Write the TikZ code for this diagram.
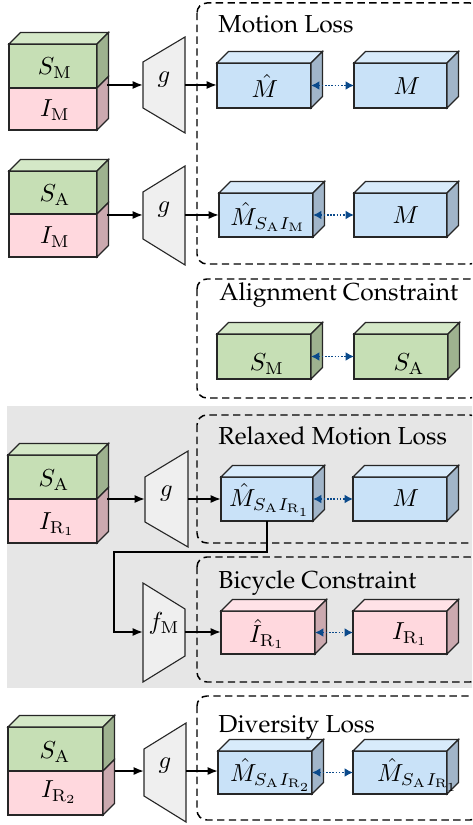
\documentclass[tikz,border=0pt]{standalone}
\usepackage[T1]{fontenc}
\usepackage{palatino}
\usetikzlibrary{calc,fit,arrows.meta}
\definecolor{gfront}{HTML}{C6DFB5}
\definecolor{gtop}{HTML}{D4E8C7}
\definecolor{gside}{HTML}{9EB28F}
\definecolor{pfront}{HTML}{FFD8DE}
\definecolor{ptop}{HTML}{FFE2E7}
\definecolor{pside}{HTML}{CBA9AF}
\definecolor{bfront}{HTML}{C9E2F8}
\definecolor{btop}{HTML}{D8EBFB}
\definecolor{bside}{HTML}{A1B5C9}
\definecolor{trapc}{HTML}{EFEFEF}
\definecolor{bgc}{HTML}{E6E6E6}
\definecolor{darr}{HTML}{0B4A8B}
\tikzset{
 edge/.style={draw=black!85,line width=0.45pt},
 front/.style={edge,fill=#1,inner sep=0pt,outer sep=0pt},
 trapnode/.style={inner sep=0pt,outer sep=0pt},
 flow/.style={line width=0.75pt,-{Latex[length=4.2pt,width=3.3pt]}},
 cmp/.style={darr,line width=0.65pt,dash pattern=on 0.65pt off 0.65pt,{Latex[length=3.4pt,width=3.6pt]}-{Latex[length=3.4pt,width=3.6pt]}},
 group/.style={line width=0.6pt,dash pattern=on 3pt off 1.8pt,rounded corners=4pt},
 title/.style={anchor=base west,inner sep=0pt},
 lbl/.style={inner sep=0pt}
}
\newcommand\topf[2]{\filldraw[edge,fill=#2] (#1.north west) -- ++(11.5,-11.5) -- ($(#1.north east)+(11.5,-11.5)$) -- (#1.north east) -- cycle;}
\newcommand\sidef[2]{\filldraw[edge,fill=#2] (#1.north east) -- ++(11.5,-11.5) -- ($(#1.south east)+(11.5,-11.5)$) -- (#1.south east) -- cycle;}
\begin{document}
\begin{tikzpicture}[x=0.4065pt,y=-0.4065pt,font=\fontsize{10}{12}\selectfont]
\useasboundingbox (0,0) rectangle (472,825);
\clip (0,0) rectangle (472,825);
% background
\fill[bgc] (7,406) rectangle (480,688);
% groups
\draw[group] (197,3) rectangle (480,264);
\draw[group] (197,279) rectangle (480,398);
\draw[group] (197,415) rectangle (480,543);
\draw[group] (197,557) rectangle (480,682);
\draw[group] (197,696) rectangle (480,820);
\node[title] (t1) at (218,33) {Motion Loss};
\node[title] (t2) at (219,301) {Alignment Constraint};
\node[title] (t3) at (218,445) {Relaxed Motion Loss};
\node[title] (t4) at (218,588) {Bicycle Constraint};
\node[title] (t5) at (218,732) {Diversity Loss};
% ---------- row 1
\node[front=gfront,fit={(9,44)(97,88)}] (s1g) {};
\node[front=pfront,fit={(9,88)(97,130)}] (s1p) {};
\topf{s1g}{gtop}\sidef{s1g}{gside}\sidef{s1p}{pside}
\node[lbl] (s1gl) at (55,68) {$S_{\mathrm{M}}$};
\node[lbl] (s1pl) at (55,110) {$I_{\mathrm{M}}$};
\coordinate (s1o) at (107,85);
\filldraw[edge,fill=trapc] (143,62) -- (185,37) -- (185,133) -- (143,108) -- cycle;
\node[trapnode,fit={(143,75)(185,95)}] (g1) {$g$};
\node[front=bfront,fit={(217,63)(311,108)}] (m1) {};
\node[front=bfront,fit={(354,63)(447,108)}] (m2) {};
\topf{m1}{btop}\sidef{m1}{bside}\topf{m2}{btop}\sidef{m2}{bside}
\node[lbl] (m1l) at (265,86) {$\hat{M}$};
\node[lbl] (m2l) at (407,86) {$M$};
\draw[flow] (s1o) -- (g1.west);
\draw[flow] (g1.east) -- (g1.east -| m1.west);
\draw[cmp] (m1.east) -- (m2.west);
% ---------- row 2
\node[front=gfront,fit={(9,171)(97,214)}] (s2g) {};
\node[front=pfront,fit={(9,214)(97,257)}] (s2p) {};
\topf{s2g}{gtop}\sidef{s2g}{gside}\sidef{s2p}{pside}
\node[lbl] (s2gl) at (55,195) {$S_{\mathrm{A}}$};
\node[lbl] (s2pl) at (55,237) {$I_{\mathrm{M}}$};
\coordinate (s2o) at (107,215);
\filldraw[edge,fill=trapc] (143,192) -- (185,166) -- (185,265) -- (143,239) -- cycle;
\node[trapnode,fit={(143,205)(185,225)}] (g2) {$g$};
\node[front=bfront,fit={(219,193)(313,237)}] (m3) {};
\node[front=bfront,fit={(354,193)(447,237)}] (m4) {};
\topf{m3}{btop}\sidef{m3}{bside}\topf{m4}{btop}\sidef{m4}{bside}
\node[lbl] (m3l) at (268,217) {$\hat{M}_{S_{\mathrm{A}}I_{\mathrm{M}}}$};
\node[lbl] (m4l) at (406,215) {$M$};
\draw[flow] (s2o) -- (g2.west);
\draw[flow] (g2.east) -- (g2.east -| m3.west);
\draw[cmp] (m3.east) -- (m4.west);
% ---------- alignment
\node[front=gfront,fit={(217,334)(311,379)}] (a1) {};
\node[front=gfront,fit={(354,334)(448,379)}] (a2) {};
\topf{a1}{gtop}\sidef{a1}{gside}\topf{a2}{gtop}\sidef{a2}{gside}
\node[lbl] (a1l) at (267,364) {$S_{\mathrm{M}}$};
\node[lbl] (a2l) at (409,364) {$S_{\mathrm{A}}$};
\draw[cmp] (a1.east) -- (a2.west);
% ---------- row 4
\node[front=gfront,fit={(8,455)(97,499)}] (s4g) {};
\node[front=pfront,fit={(8,499)(97,543)}] (s4p) {};
\topf{s4g}{gtop}\sidef{s4g}{gside}\sidef{s4p}{pside}
\node[lbl] (s4gl) at (54,480) {$S_{\mathrm{A}}$};
\node[lbl] (s4pl) at (57,524) {$I_{\mathrm{R}_1}$};
\coordinate (s4o) at (107,499);
\filldraw[edge,fill=trapc] (145,477) -- (188,451) -- (188,547) -- (145,522) -- cycle;
\node[trapnode,fit={(145,489)(188,509)}] (g4) {$g$};
\node[front=bfront,fit={(221,477)(313,521)}] (m5) {};
\node[front=bfront,fit={(353,477)(447,521)}] (m6) {};
\topf{m5}{btop}\sidef{m5}{bside}\topf{m6}{btop}\sidef{m6}{bside}
\node[lbl] (m5l) at (270,500) {$\hat{M}_{S_{\mathrm{A}}I_{\mathrm{R}_1}}$};
\node[lbl] (m6l) at (406,498) {$M$};
\draw[flow] (s4o) -- (g4.west);
\draw[flow] (g4.east) -- (g4.east -| m5.west);
\draw[cmp] (m5.east) -- (m6.west);
% ---------- row 5
\filldraw[edge,fill=trapc] (143,583) -- (185,609) -- (185,656) -- (143,682) -- cycle;
\node[trapnode,fit={(143,622)(185,642)}] (f) {$f_{\mathrm{M}}$};
\node[front=pfront,fit={(221,611)(315,654)}] (p1) {};
\node[front=pfront,fit={(353,611)(447,654)}] (p2) {};
\topf{p1}{ptop}\sidef{p1}{pside}\topf{p2}{ptop}\sidef{p2}{pside}
\node[lbl] (p1l) at (267,634) {$\hat{I}_{\mathrm{R}_1}$};
\node[lbl] (p2l) at (410,634) {$I_{\mathrm{R}_1}$};
\coordinate (bend) at (114,552);
\draw[flow] (m5.south) |- (bend) |- (f.west);
\draw[flow] (f.east) -- (f.east -| p1.west);
\draw[cmp] (p1.east) -- (p2.west);
% ---------- row 6
\node[front=gfront,fit={(8,727)(103,771)}] (s6g) {};
\node[front=pfront,fit={(8,771)(103,815)}] (s6p) {};
\topf{s6g}{gtop}\sidef{s6g}{gside}\sidef{s6p}{pside}
\node[lbl] (s6gl) at (55,752) {$S_{\mathrm{A}}$};
\node[lbl] (s6pl) at (59,792) {$I_{\mathrm{R}_2}$};
\coordinate (s6o) at (115,771);
\filldraw[edge,fill=trapc] (144,749) -- (186,723) -- (186,822) -- (144,796) -- cycle;
\node[trapnode,fit={(144,761)(186,781)}] (g6) {$g$};
\node[front=bfront,fit={(218,751)(312,794)}] (m7) {};
\node[front=bfront,fit={(353,751)(447,794)}] (m8) {};
\topf{m7}{btop}\sidef{m7}{bside}\topf{m8}{btop}\sidef{m8}{bside}
\node[lbl] (m7l) at (271,775) {$\hat{M}_{S_{\mathrm{A}}I_{\mathrm{R}_2}}$};
\node[lbl] (m8l) at (418,775) {$\hat{M}_{S_{\mathrm{A}}I_{\mathrm{R}_1}}$};
\draw[flow] (s6o) -- (g6.west);
\draw[flow] (g6.east) -- (g6.east -| m7.west);
\draw[cmp] (m7.east) -- (m8.west);
\end{tikzpicture}
\end{document}
